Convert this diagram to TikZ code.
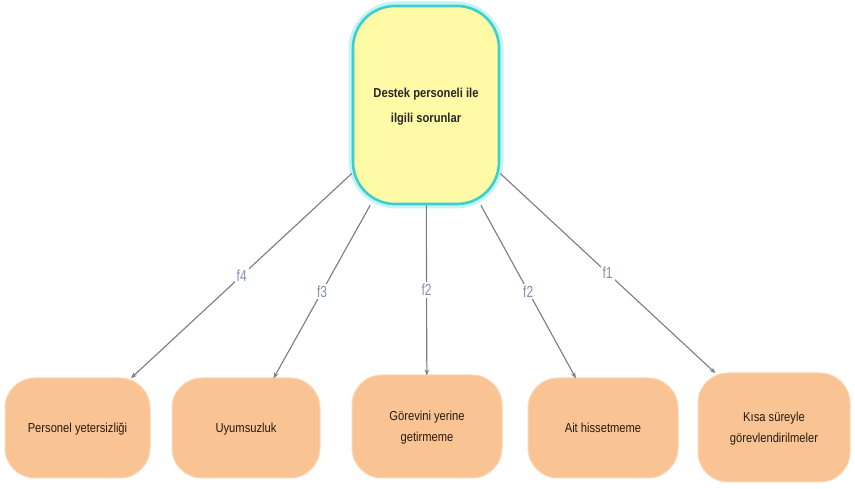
\documentclass[tikz,border=0pt]{standalone}
\usepackage{fontspec}
\usepackage{graphicx}
\setmainfont{Liberation Sans}
\usetikzlibrary{arrows.meta}
\definecolor{cyanb}{HTML}{3CCFCF}
\definecolor{cyang}{HTML}{C4F3F3}
\definecolor{yel}{HTML}{FFFAA6}
\definecolor{peach}{HTML}{F9C394}
\definecolor{peachedge}{HTML}{FBD7B6}
\definecolor{lbl}{HTML}{7F90B5}
\definecolor{linec}{HTML}{7C7C7C}
\newcommand{\nt}[1]{\scalebox{0.86}[1]{\begin{tabular}{@{}c@{}}#1\end{tabular}}}
\begin{document}
\begin{tikzpicture}[x=1pt,y=1pt,
  central/.style={draw=cyanb, line width=2.6pt, fill=yel, rounded corners=42pt,
     minimum width=146pt, minimum height=198pt, inner sep=0pt,
     font=\fontsize{13}{25}\selectfont\bfseries, text=black!85},
  leaf/.style={draw=peachedge, line width=1pt, fill=peach, rounded corners=30pt,
     minimum width=145pt, minimum height=100pt, inner sep=0pt,
     font=\fontsize{13}{21.5}\selectfont, text=black!80!brown},
  conn/.style={draw=linec, line width=1.1pt, -{Stealth[length=6pt,width=4.5pt]}, shorten >=-1pt},
  flab/.style={fill=white, inner sep=2pt, text=lbl, font=\fontsize{16}{16}\selectfont}
]
\useasboundingbox (0,0) rectangle (855,489);
\fill[white] (0,0) rectangle (855,489);
% glow
\draw[cyang, line width=7pt, rounded corners=44pt] (352,284) rectangle (500,484);
\node[central] (c) at (426,384) {\nt{Destek personeli ile\\ilgili sorunlar}};
\node[leaf] (b1) at (77.5,61) {\nt{Personel yetersizliği}};
\node[leaf, minimum width=148pt] (b2) at (246,61) {\nt{Uyumsuzluk}};
\node[leaf, minimum width=150pt, minimum height=103pt] (b3) at (427,62.5) {\nt{Görevini yerine\\getirmeme}};
\node[leaf, minimum width=150pt] (b4) at (603,61) {\nt{Ait hissetmeme}};
\node[leaf, minimum width=152pt, minimum height=109pt] (b5) at (774,61.5) {\nt{Kısa süreyle\\görevlendirilmeler}};
\draw[conn] (c) -- node[flab, midway] {\scalebox{0.75}[1]{f4}} (b1);
\draw[conn] (c) -- node[flab, midway] {\scalebox{0.75}[1]{f3}} (b2);
\draw[conn] (c) -- node[flab, midway] {\scalebox{0.75}[1]{f2}} (b3);
\draw[conn] (c) -- node[flab, midway] {\scalebox{0.75}[1]{f2}} (b4);
\draw[conn] (c) -- node[flab, midway] {\scalebox{0.75}[1]{f1}} (b5);
\end{tikzpicture}
\end{document}
